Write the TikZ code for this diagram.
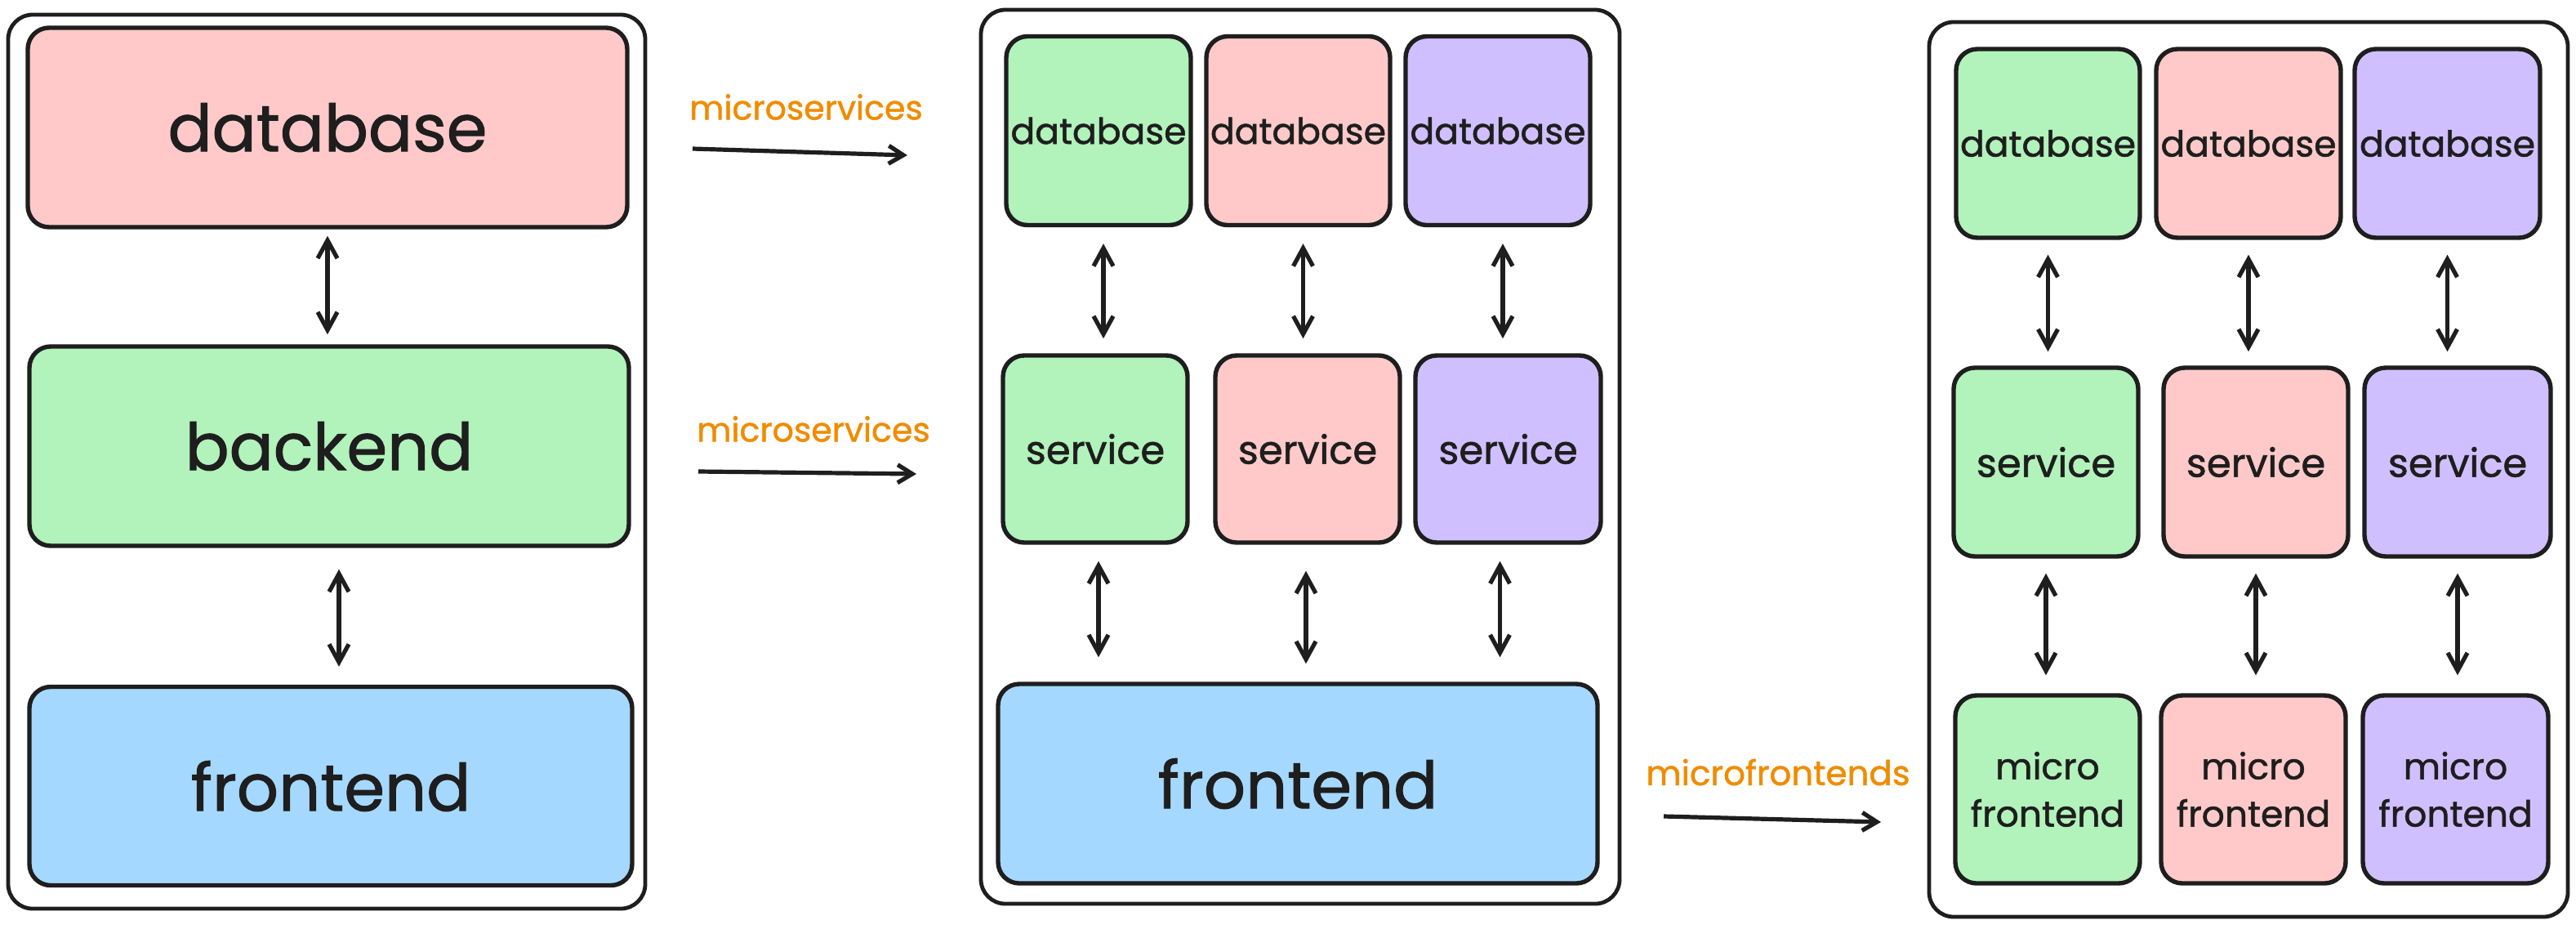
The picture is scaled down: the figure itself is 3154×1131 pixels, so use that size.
\documentclass[tikz,border=0pt]{standalone}
\usepackage{fontspec}
\setmainfont{Poppins}[FakeBold=1.2]
\usetikzlibrary{arrows.meta}
\definecolor{stroke}{HTML}{1E1E1E}
\definecolor{fred}{HTML}{FFC9C9}
\definecolor{fgreen}{HTML}{B2F2BB}
\definecolor{fpurple}{HTML}{D0BFFF}
\definecolor{fblue}{HTML}{A5D8FF}
\definecolor{lorange}{HTML}{F08C00}
\tikzset{
  panel/.style={draw=stroke, line width=2.4pt, rounded corners=15pt, inner sep=0pt},
  box/.style={draw=stroke, line width=2.7pt, rounded corners=13pt, inner sep=0pt, text=stroke},
  bigtxt/.style={font=\fontsize{40}{44}\selectfont},
  smalltxt/.style={font=\fontsize{22}{29}\selectfont, align=center},
  svctxt/.style={font=\fontsize{24}{28}\selectfont},
  lbl/.style={text=lorange, font=\fontsize{20.5}{24}\selectfont, inner sep=0pt},
  biarrow/.style={draw=stroke, line width=2.6pt, {Straight Barb[length=11pt,width=12pt]}-{Straight Barb[length=11pt,width=12pt]}},
  onearrow/.style={draw=stroke, line width=2.6pt, -{Straight Barb[length=9pt,width=11pt]}},
}
\begin{document}
\begin{tikzpicture}[x=0.5pt,y=-0.5pt]
\useasboundingbox[fill=white] (0,0) rectangle (3154,1131);

% ---------- panel 1 ----------
\node[panel, minimum width=390pt, minimum height=547pt] (p1) at (400,565) {};
\node[box, fill=fred, minimum width=367pt, minimum height=122pt, bigtxt] (db1) at (401,156) {database};
\node[box, fill=fgreen, minimum width=367pt, minimum height=122pt, bigtxt] (be1) at (403,546) {backend};
\node[box, fill=fblue, minimum width=369pt, minimum height=121.5pt, bigtxt] (fe1) at (405,962) {frontend};
\draw[biarrow, shorten <=4pt, shorten >=6pt] (db1.south) -- (db1.south |- be1.north);
\draw[biarrow, shorten <=13pt, shorten >=11pt] ([xshift=6pt]be1.south) -- ([xshift=6pt]be1.south |- fe1.north);

% ---------- transitions ----------
\node[lbl] (l1) at (987,131) {microservices};
\coordinate (a1s) at (848,182);
\coordinate (a1e) at (1111,190);
\draw[onearrow] (a1s) -- (a1e);
\node[lbl] (l2) at (996,525) {microservices};
\coordinate (a2s) at (855,577);
\coordinate (a2e) at (1122,580);
\draw[onearrow] (a2s) -- (a2e);
\node[lbl, font=\fontsize{21}{24}\selectfont] (l3) at (2177,945) {microfrontends};
\coordinate (a3s) at (2037,999);
\coordinate (a3e) at (2303,1006);
\draw[onearrow] (a3s) -- (a3e);

% ---------- panel 2 ----------
\node[panel, minimum width=391pt, minimum height=547pt] (p2) at (1592,559) {};
\node[box, fill=fgreen, minimum width=113pt, minimum height=115.5pt, smalltxt] (d2a) at (1345,160) {database};
\node[box, fill=fred, minimum width=112.5pt, minimum height=115.5pt, smalltxt] (d2b) at (1589.5,160) {database};
\node[box, fill=fpurple, minimum width=113pt, minimum height=115.5pt, smalltxt] (d2c) at (1834,160) {database};
\node[box, fill=fgreen, minimum width=113pt, minimum height=114.5pt, svctxt] (s2a) at (1341,549.5) {service};
\node[box, fill=fred, minimum width=113pt, minimum height=114.5pt, svctxt] (s2b) at (1601,549.5) {service};
\node[box, fill=fpurple, minimum width=113.5pt, minimum height=114.5pt, svctxt] (s2c) at (1846.5,549.5) {service};
\node[box, fill=fblue, minimum width=367pt, minimum height=122pt, bigtxt] (fe2) at (1589,959) {frontend};
\foreach \d/\s in {d2a/s2a,d2b/s2b,d2c/s2c}{
  \draw[biarrow, shorten <=10pt, shorten >=9pt] ([xshift=3pt]\d.south) -- ([xshift=3pt]\d.south |- \s.north);
}
\draw[biarrow, shorten <=10pt, shorten >=15pt] ([xshift=2pt]s2a.south) -- ([xshift=2pt]s2a.south |- fe2.north);
\draw[biarrow, shorten <=16pt, shorten >=11pt] ([xshift=-1pt]s2b.south) -- ([xshift=-1pt]s2b.south |- fe2.north);
\draw[biarrow, shorten <=10pt, shorten >=15pt] ([xshift=-5pt]s2c.south) -- ([xshift=-5pt]s2c.south |- fe2.north);

% ---------- panel 3 ----------
\node[panel, minimum width=391pt, minimum height=547.5pt] (p3) at (2753,574.5) {};
\node[box, fill=fgreen, minimum width=112.5pt, minimum height=115.5pt, smalltxt] (d3a) at (2507.5,175.5) {database};
\node[box, fill=fred, minimum width=113pt, minimum height=115.5pt, smalltxt] (d3b) at (2753,175.5) {database};
\node[box, fill=fpurple, minimum width=113.5pt, minimum height=115.5pt, smalltxt] (d3c) at (2996.5,175.5) {database};
\node[box, fill=fgreen, minimum width=113pt, minimum height=115.5pt, svctxt] (s3a) at (2505,565.5) {service};
\node[box, fill=fred, minimum width=113pt, minimum height=115.5pt, svctxt] (s3b) at (2762,565.5) {service};
\node[box, fill=fpurple, minimum width=114pt, minimum height=115.5pt, svctxt] (s3c) at (3009,565.5) {service};
\node[box, fill=fgreen, minimum width=113pt, minimum height=115pt, smalltxt] (m3a) at (2507,966) {micro\\frontend};
\node[box, fill=fred, minimum width=113pt, minimum height=115pt, smalltxt] (m3b) at (2759,966) {micro\\frontend};
\node[box, fill=fpurple, minimum width=113.5pt, minimum height=115pt, smalltxt] (m3c) at (3006.5,966) {micro\\frontend};
\foreach \d/\s in {d3a/s3a,d3b/s3b,d3c/s3c}{
  \draw[biarrow, shorten <=9pt, shorten >=8.5pt] (\d.south) -- (\d.south |- \s.north);
}
\foreach \s/\m in {s3a/m3a,s3b/m3b,s3c/m3c}{
  \draw[biarrow, shorten <=9pt, shorten >=11pt] (\s.south) -- (\s.south |- \m.north);
}
\end{tikzpicture}
\end{document}
